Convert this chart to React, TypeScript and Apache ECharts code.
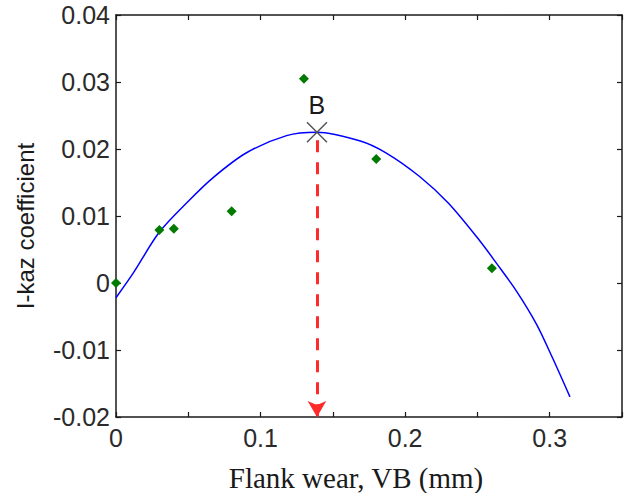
import React, { useEffect, useRef } from "react";
import * as echarts from "echarts";

const pointX = [0, 0.03, 0.04, 0.08, 0.13, 0.18, 0.26];
const pointY = [0, 0.0079, 0.0081, 0.0107, 0.0305, 0.0185, 0.0022];

const fitX = [0, 0.012, 0.03, 0.05, 0.067, 0.09, 0.118, 0.139, 0.169, 0.187, 0.21, 0.23, 0.252, 0.263, 0.277, 0.291, 0.302, 0.314];
const fitY = [-0.0022, 0.0015, 0.0076, 0.0122, 0.0157, 0.0194, 0.0220, 0.0225, 0.0212, 0.0194, 0.0159, 0.0119, 0.0062, 0.0030, -0.0012, -0.0062, -0.0112, -0.0170];

const peak = [0.139, 0.0225];
const peakLabel = "B";
const arrowEndY = -0.02;

const xMin = 0, xMax = 0.35, xStep = 0.05;
const yMin = -0.02, yMax = 0.04, yStep = 0.01;
const xTickLabels = ["0", "0.1", "0.2", "0.3"];

const xTitle = "Flank wear, VB (mm)";
const yTitle = "I-kaz coefficient";

export default function App() {
  const ref = useRef<HTMLDivElement>(null);
  useEffect(() => {
    if (!ref.current) return;
    const chart = echarts.init(ref.current, null, { renderer: "svg" });
    const axisLine = { show: true, onZero: false, lineStyle: { color: "#1a1a1a", width: 1.5 } };
    const tick = { show: true, inside: true, length: 5, lineStyle: { color: "#1a1a1a", width: 1.2 } };
    const labelFont = { fontFamily: "Liberation Sans", fontSize: 25, color: "#2a2a2a" };
    chart.setOption({
      animation: false,
      backgroundColor: "#ffffff",
      grid: { left: 116, right: 6, top: 15, bottom: 76, containLabel: false },
      xAxis: [
        {
          type: "value", min: xMin, max: xMax, interval: xStep, position: "bottom",
          axisLine, axisTick: tick, splitLine: { show: false },
          axisLabel: {
            ...labelFont, margin: 8,
            formatter: (v: number) => {
              const k = Math.round(v * 100);
              if (k % 10 !== 0) return "";
              const s = String(Number(v.toFixed(1)));
              return xTickLabels.includes(s) ? s : "";
            },
          },
        },
        {
          type: "value", min: xMin, max: xMax, interval: xStep, position: "top",
          axisLine, axisTick: tick, axisLabel: { show: false }, splitLine: { show: false },
        },
      ],
      yAxis: [
        {
          type: "value", min: yMin, max: yMax, interval: yStep, position: "left",
          axisLine, axisTick: tick, splitLine: { show: false },
          axisLabel: { ...labelFont, margin: 6, formatter: (v: number) => String(Number(v.toFixed(2))) },
        },
        {
          type: "value", min: yMin, max: yMax, interval: yStep, position: "right",
          axisLine, axisTick: tick, axisLabel: { show: false }, splitLine: { show: false },
        },
      ],
      series: [
        {
          type: "line",
          data: fitX.map((x, i) => [x, fitY[i]]),
          smooth: 0.3,
          showSymbol: false,
          lineStyle: { color: "#0000ff", width: 1.5 },
          z: 2,
        },
        {
          type: "scatter",
          data: pointX.map((x, i) => [x, pointY[i]]),
          symbol: "diamond",
          symbolSize: 10,
          itemStyle: { color: "#007a00", opacity: 1 },
          z: 3,
        },
        {
          type: "scatter",
          data: [peak],
          symbol: "path://M0,0L10,10M10,0L0,10",
          symbolSize: 20,
          itemStyle: { color: "none", borderColor: "#555555", borderWidth: 1.5, opacity: 1 },
          label: {
            show: true, position: "top", distance: 2, formatter: peakLabel,
            fontFamily: "Liberation Sans", fontSize: 25, color: "#1a1a1a",
          },
          markLine: {
            silent: true,
            symbol: ["none", "arrow"],
            symbolSize: [14, 16],
            label: { show: false },
            lineStyle: { color: "#ff2a2a", width: 3, type: [12, 10] },
            data: [[{ coord: [peak[0], peak[1] - 0.0012] }, { coord: [peak[0], arrowEndY] }]],
          },
          z: 4,
        },
      ],
      graphic: [
        {
          type: "text", x: 356, y: 478,
          style: {
            text: xTitle, fontFamily: "Liberation Serif", fontSize: 29, fill: "#1a1a1a",
            textAlign: "center", textVerticalAlign: "middle",
          },
        },
        {
          type: "text", x: 25, y: 226, rotation: Math.PI / 2,
          style: {
            text: yTitle, fontFamily: "Liberation Sans", fontSize: 24, fill: "#1a1a1a",
            textAlign: "center", textVerticalAlign: "middle",
          },
        },
      ],
    });
    return () => chart.dispose();
  }, []);
  return <div ref={ref} style={{ position: "fixed", left: 0, top: 0, width: 628, height: 493 }} />;
}
